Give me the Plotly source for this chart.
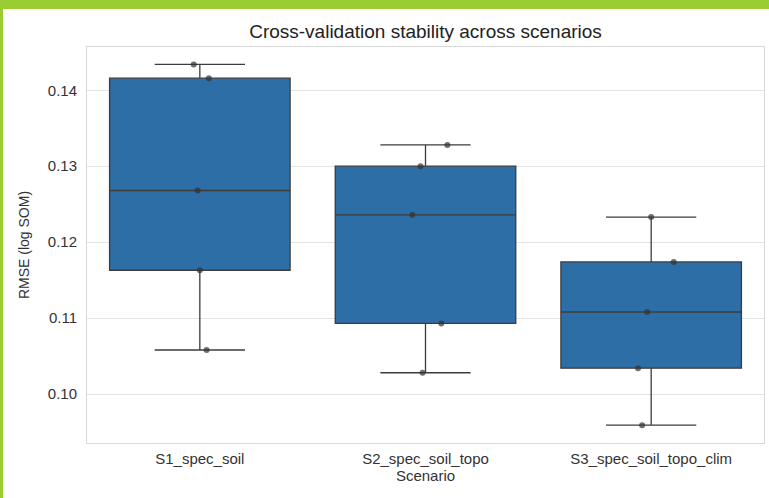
import plotly.graph_objects as go

# ---- data ----
scenarios = ["S1_spec_soil", "S2_spec_soil_topo", "S3_spec_soil_topo_clim"]
s1_rmse = [0.1434, 0.1416, 0.1268, 0.1163, 0.1058]
s2_rmse = [0.1328, 0.1300, 0.1236, 0.1093, 0.1028]
s3_rmse = [0.1233, 0.1174, 0.1108, 0.1034, 0.0959]
series = [s1_rmse, s2_rmse, s3_rmse]
y_ticks = [0.10, 0.11, 0.12, 0.13, 0.14]
y_tick_labels = ["0.10", "0.11", "0.12", "0.13", "0.14"]

# horizontal jitter of the strip points (category units)
jitter = [
    [-0.027, 0.040, -0.010, 0.000, 0.030],
    [0.097, -0.022, -0.058, 0.070, -0.013],
    [0.000, 0.100, -0.018, -0.058, -0.040],
]

FONT = "Liberation Sans, Arial, sans-serif"
BOX_FILL = "#2d6ea6"
BOX_LINE = "#3c3c3c"
GREEN = "#9acd32"

fig = go.Figure()
for i, vals in enumerate(series):
    fig.add_trace(go.Box(
        x=[i] * len(vals), y=vals, width=0.8, whiskerwidth=0.5,
        boxpoints=False, quartilemethod="inclusive",
        fillcolor=BOX_FILL, line=dict(color=BOX_LINE, width=1.3),
        showlegend=False, hoverinfo="skip",
    ))
for i, vals in enumerate(series):
    fig.add_trace(go.Scatter(
        x=[i + j for j in jitter[i]], y=vals, mode="markers",
        marker=dict(color="rgba(50,50,50,0.7)", size=6),
        showlegend=False,
    ))

# green frame decoration (top bar + left bar)
L, R, T, B = 87, 5, 47, 55
W, H = 769, 498
pw, ph = W - L - R, H - T - B
def px(x):
    return (x - L) / pw
def py(y):
    return (H - B - y) / ph
fig.add_shape(type="rect", xref="paper", yref="paper",
              x0=px(0), x1=px(W), y0=py(9), y1=py(0),
              fillcolor=GREEN, line=dict(width=0), layer="above")
fig.add_shape(type="rect", xref="paper", yref="paper",
              x0=px(0), x1=px(3), y0=py(H), y1=py(0),
              fillcolor=GREEN, line=dict(width=0), layer="above")

fig.update_layout(
    width=W, height=H,
    margin=dict(l=L, r=R, t=T, b=B, autoexpand=False),
    paper_bgcolor="white", plot_bgcolor="white",
    font=dict(family=FONT, size=15, color="#333333"),
    title=dict(text="Cross-validation stability across scenarios",
               x=(L + pw / 2) / W, xanchor="center", y=1 - 31 / H, yanchor="middle",
               font=dict(size=19, color="#222222")),
    xaxis=dict(range=[-0.5, 2.5], tickvals=[0, 1, 2], ticktext=scenarios,
               showgrid=False, zeroline=False, showline=True, mirror=True,
               linecolor="#d9d9d9", linewidth=1, ticks="", automargin=False,
               ticklabelstandoff=2,
               title=dict(text="Scenario", standoff=4, font=dict(size=15))),
    yaxis=dict(range=[0.09355, 0.1457], tickvals=y_ticks, ticktext=y_tick_labels,
               showgrid=True, gridcolor="#e3e3e3", gridwidth=1, zeroline=False,
               showline=True, mirror=True, linecolor="#d9d9d9", linewidth=1, ticks="",
               automargin=False, ticklabelstandoff=6,
               title=dict(text="RMSE (log SOM)", standoff=14, font=dict(size=14))),
)

fig.write_html(
    "out.html",
    config={"displayModeBar": False},
    post_script="document.body.style.margin='0';document.body.style.overflow='hidden';",
)
